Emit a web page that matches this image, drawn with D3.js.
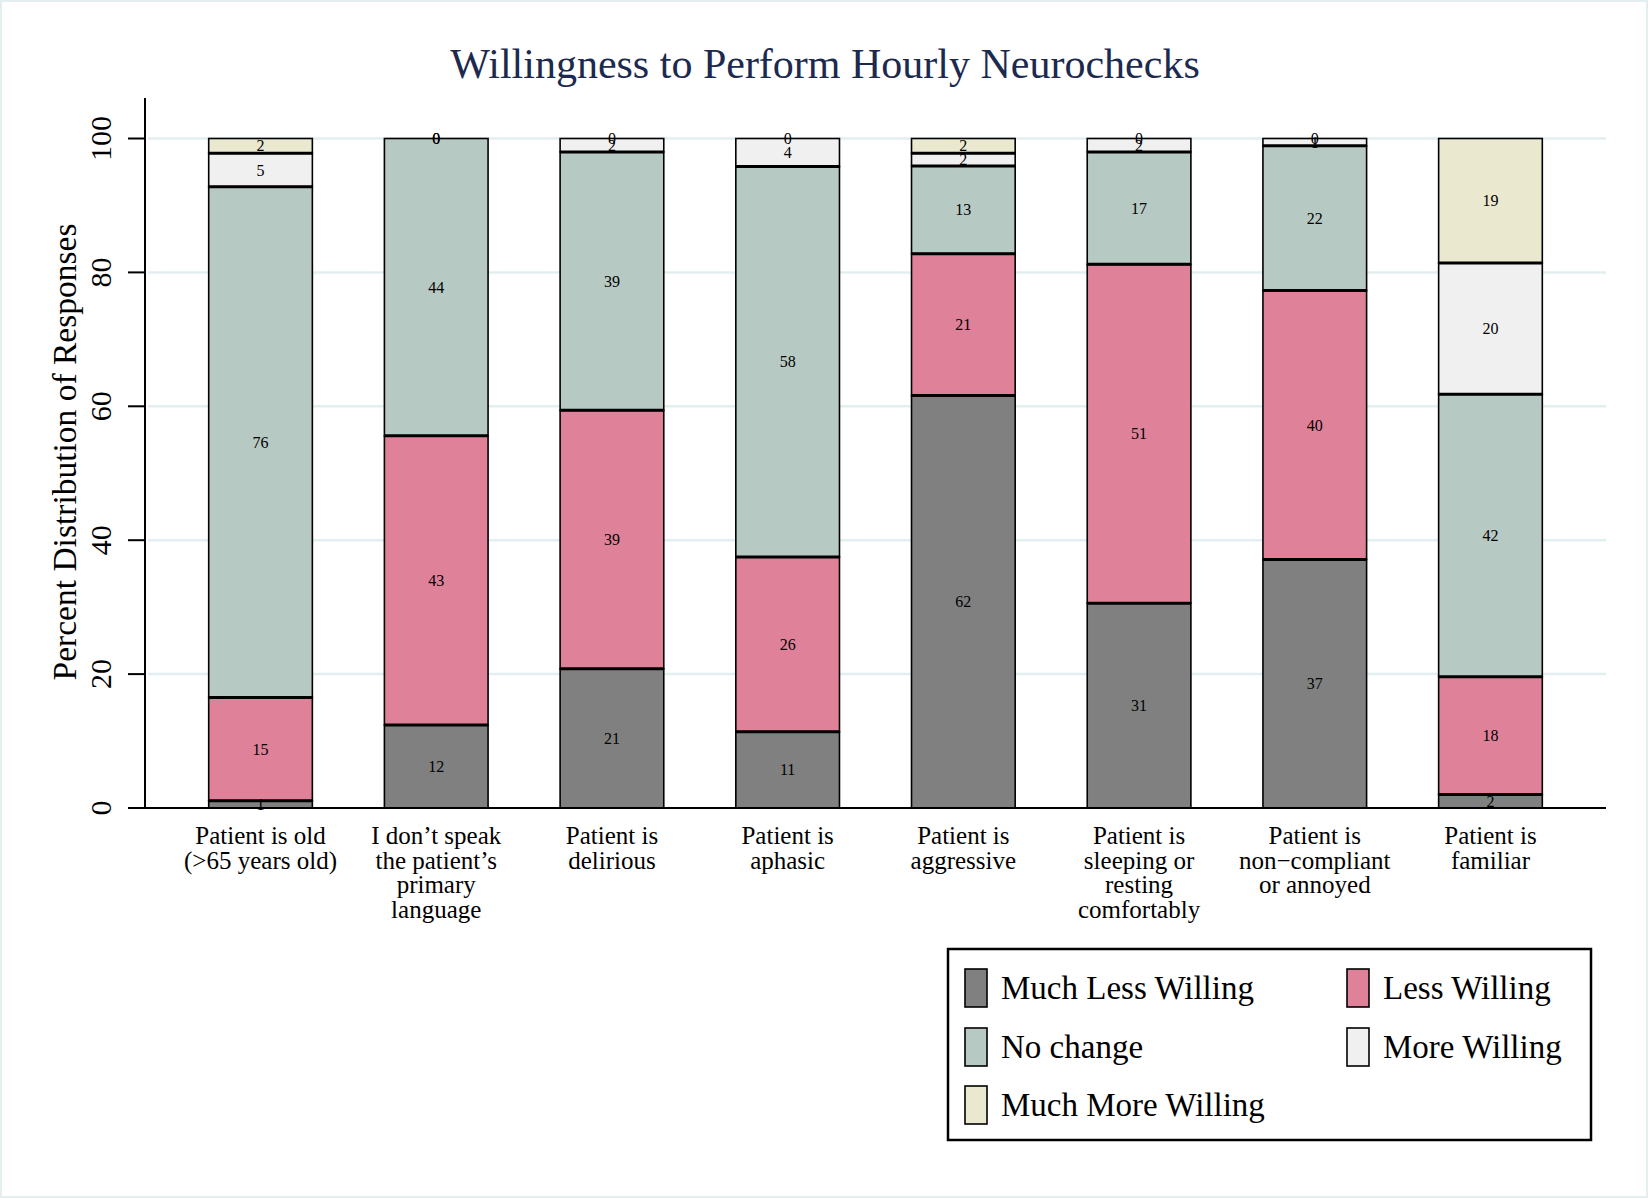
<!DOCTYPE html>
<html>
<head>
<meta charset="utf-8">
<script src="https://cdn.jsdelivr.net/npm/d3@7"></script>
<style>
  html, body { margin: 0; padding: 0; background: #fff; }
  svg text { font-family: 'Liberation Serif', 'Times New Roman', serif; }
</style>
</head>
<body>
<svg id="chart" width="1648" height="1198"></svg>
<script>
const categories = ['old', 'language', 'delirious', 'aphasic', 'aggressive', 'sleeping', 'noncompliant', 'familiar'];
const categoryLabels = [
  ['Patient is old', '(>65 years old)'],
  ['I don\u2019t speak', 'the patient\u2019s', 'primary', 'language'],
  ['Patient is', 'delirious'],
  ['Patient is', 'aphasic'],
  ['Patient is', 'aggressive'],
  ['Patient is', 'sleeping or', 'resting', 'comfortably'],
  ['Patient is', 'non\u2212compliant', 'or annoyed'],
  ['Patient is', 'familiar'],
];

// percent of responses per category, bottom to top of each bar
const muchLessWilling = [1.1, 12.4, 20.8, 11.4, 61.6, 30.6, 37.1, 2.0];
const lessWilling = [15.4, 43.2, 38.6, 26.1, 21.2, 50.6, 40.2, 17.6];
const noChange = [76.3, 44.4, 38.6, 58.3, 13.1, 16.8, 21.6, 42.2];
const moreWilling = [5.0, 0, 2.0, 4.2, 1.9, 2.0, 1.1, 19.6];
const muchMoreWilling = [2.2, 0, 0, 0, 2.2, 0, 0, 18.6];

const seriesNames = ['Much Less Willing', 'Less Willing', 'No change', 'More Willing', 'Much More Willing'];
const seriesValues = [muchLessWilling, lessWilling, noChange, moreWilling, muchMoreWilling];
const seriesColors = ['#808080', '#e0819a', '#b7c9c3', '#f0f0f0', '#ebe8d0'];
const yTicks = [0, 20, 40, 60, 80, 100];

const svg = d3.select('#chart');
const margin = { left: 145, right: 1606, top: 138.5, bottom: 808 };

// thin light frame round the whole graph
svg.append('rect')
  .attr('x', 1).attr('y', 1).attr('width', 1646).attr('height', 1196)
  .attr('fill', '#fff').attr('stroke', '#e4eef1').attr('stroke-width', 2);

const rows = categories.map((c, i) => {
  const row = { category: c };
  seriesNames.forEach((s, j) => { row[s] = seriesValues[j][i]; });
  return row;
});
const stacked = d3.stack().keys(seriesNames)(rows);

const x = d3.scaleBand()
  .domain(categories)
  .range([margin.left, margin.right])
  .paddingInner(0.41)
  .paddingOuter(0.3625);
const y = d3.scaleLinear().domain([0, 100]).range([margin.bottom, margin.top]);

// gridlines
svg.append('g')
  .selectAll('line')
  .data(yTicks.filter((t) => t > 0))
  .join('line')
  .attr('x1', margin.left + 3).attr('x2', margin.right)
  .attr('y1', (d) => y(d)).attr('y2', (d) => y(d))
  .attr('stroke', '#e3eef0').attr('stroke-width', 2.5);

// bars
const barG = svg.append('g');
stacked.forEach((layer, j) => {
  barG.append('g')
    .selectAll('rect')
    .data(layer)
    .join('rect')
    .attr('x', (d) => x(d.data.category))
    .attr('width', x.bandwidth())
    .attr('y', (d) => y(d[1]))
    .attr('height', (d) => y(d[0]) - y(d[1]))
    .attr('fill', seriesColors[j])
    .attr('stroke', '#000')
    .attr('stroke-width', 1.6);
});

// heavier separators between segments
stacked.slice(0, -1).forEach((layer) => {
  barG.append('g')
    .selectAll('line')
    .data(layer.filter((d) => d[1] < 99.95))
    .join('line')
    .attr('x1', (d) => x(d.data.category))
    .attr('x2', (d) => x(d.data.category) + x.bandwidth())
    .attr('y1', (d) => y(d[1]))
    .attr('y2', (d) => y(d[1]))
    .attr('stroke', '#000')
    .attr('stroke-width', 3);
});

// value labels at segment centres
stacked.forEach((layer) => {
  svg.append('g')
    .selectAll('text')
    .data(layer)
    .join('text')
    .attr('x', (d) => x(d.data.category) + x.bandwidth() / 2)
    .attr('y', (d) => y((d[0] + d[1]) / 2))
    .attr('dy', '0.35em')
    .attr('text-anchor', 'middle')
    .attr('font-size', 16)
    .attr('fill', '#000')
    .text((d) => Math.round(d[1] - d[0]));
});

// y axis
const yAxisG = svg.append('g');
yAxisG.append('line')
  .attr('x1', margin.left).attr('x2', margin.left)
  .attr('y1', 98).attr('y2', margin.bottom + 1)
  .attr('stroke', '#000').attr('stroke-width', 2);
yAxisG.selectAll('.tick')
  .data(yTicks)
  .join('line')
  .attr('x1', margin.left - 17).attr('x2', margin.left)
  .attr('y1', (d) => y(d)).attr('y2', (d) => y(d))
  .attr('stroke', '#000').attr('stroke-width', 2);
yAxisG.selectAll('text')
  .data(yTicks)
  .join('text')
  .attr('transform', (d) => `translate(111, ${y(d)}) rotate(-90)`)
  .attr('text-anchor', 'middle')
  .attr('font-size', 30)
  .text((d) => d);

svg.append('text')
  .attr('transform', 'translate(76, 452) rotate(-90)')
  .attr('text-anchor', 'middle')
  .attr('font-size', 33.5)
  .text('Percent Distribution of Responses');

// x axis
svg.append('line')
  .attr('x1', margin.left).attr('x2', margin.right)
  .attr('y1', margin.bottom).attr('y2', margin.bottom)
  .attr('stroke', '#000').attr('stroke-width', 2);

svg.append('g')
  .selectAll('text')
  .data(categories)
  .join('text')
  .attr('x', (d) => x(d) + x.bandwidth() / 2)
  .attr('y', 844)
  .attr('text-anchor', 'middle')
  .attr('font-size', 25)
  .each(function (d, i) {
    d3.select(this).selectAll('tspan')
      .data(categoryLabels[i])
      .join('tspan')
      .attr('x', x(d) + x.bandwidth() / 2)
      .attr('dy', (l, k) => (k === 0 ? 0 : 24.5))
      .text((l) => l);
  });

// title
svg.append('text')
  .attr('x', 825).attr('y', 78)
  .attr('text-anchor', 'middle')
  .attr('font-size', 42)
  .attr('fill', '#1b2a4e')
  .text('Willingness to Perform Hourly Neurochecks');

// legend
const legend = svg.append('g');
legend.append('rect')
  .attr('x', 948).attr('y', 949).attr('width', 643).attr('height', 191)
  .attr('fill', '#fff').attr('stroke', '#000').attr('stroke-width', 2.5);

const legendCols = [965, 1347];
const legendRows = [988, 1047, 1105];
const items = legend.selectAll('.item')
  .data(seriesNames)
  .join('g')
  .attr('class', 'item')
  .attr('transform', (d, i) => `translate(${legendCols[i % 2]}, ${legendRows[Math.floor(i / 2)]})`);
items.append('rect')
  .attr('x', 0).attr('y', -19).attr('width', 22).attr('height', 38)
  .attr('fill', (d, i) => seriesColors[i])
  .attr('stroke', '#000').attr('stroke-width', 1.6);
items.append('text')
  .attr('x', 36).attr('y', 11)
  .attr('font-size', 33)
  .text((d) => d);
</script>
</body>
</html>
